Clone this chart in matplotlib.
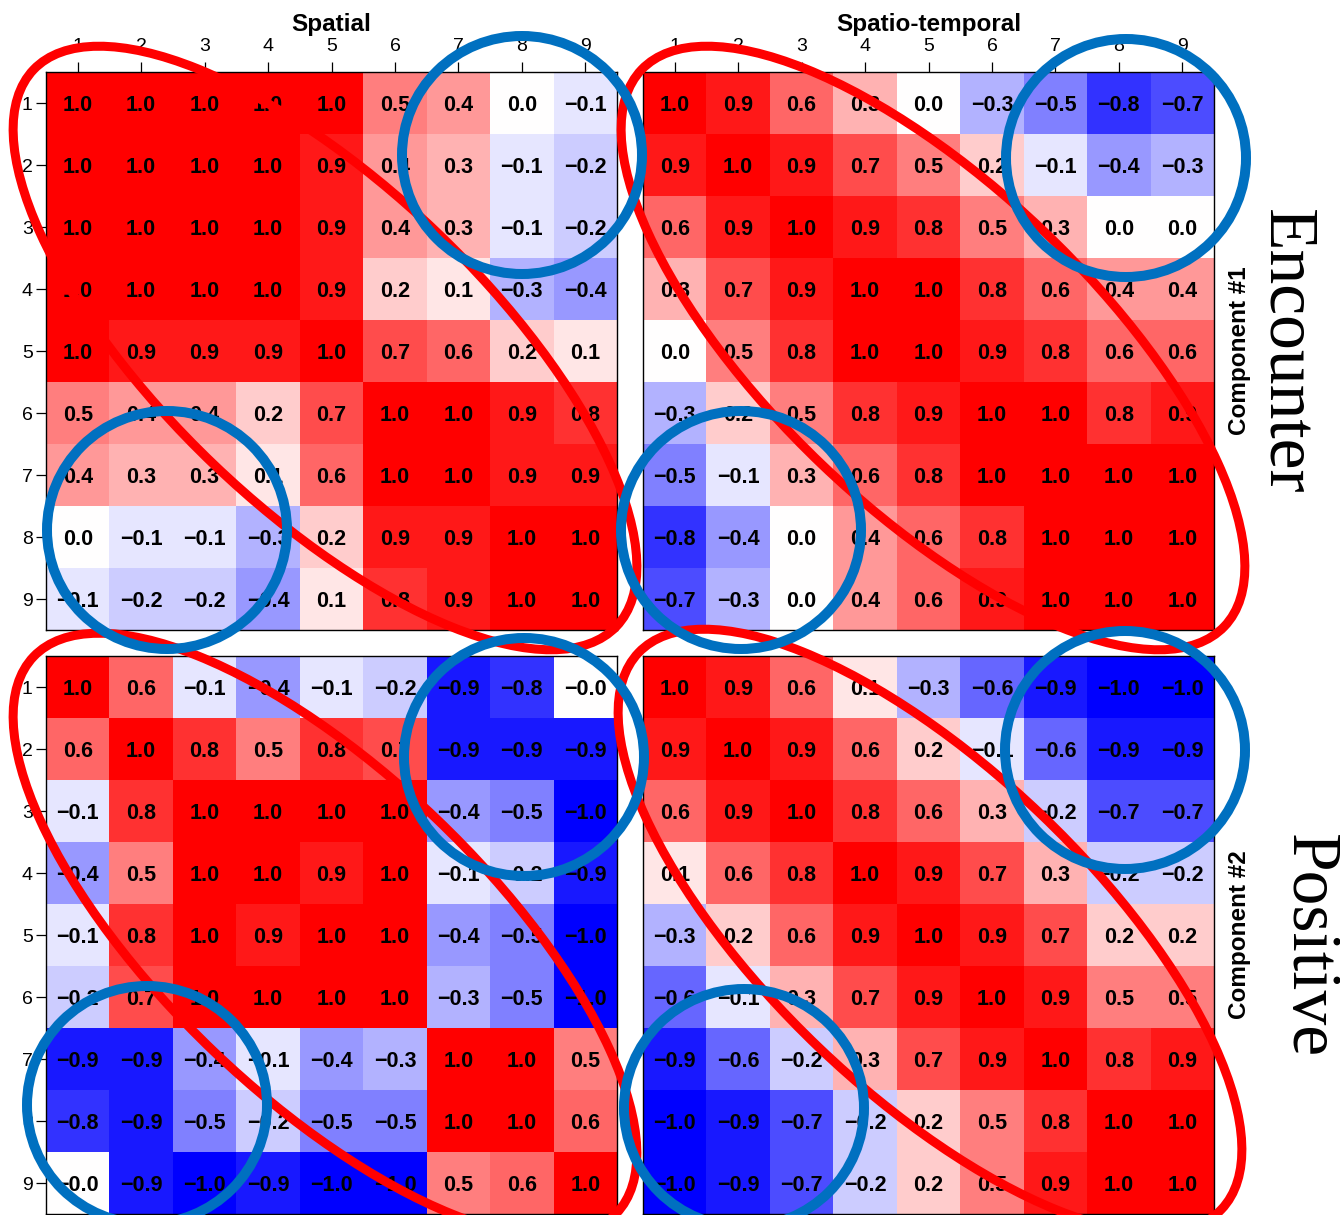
import matplotlib.pyplot as plt
from matplotlib.patches import Ellipse
import numpy as np

plt.rcParams['font.family'] = ['Liberation Sans', 'DejaVu Sans']

analyses = ["Spatial", "Spatio-temporal"]
components = ["Component #1", "Component #2"]
conditions = ["Encounter", "Positive"]
tick_labels = [str(i) for i in range(1, 10)]

spatial_c1 = [
    [1.0, 1.0, 1.0, 1.0, 1.0, 0.5, 0.4, 0.0, -0.1],
    [1.0, 1.0, 1.0, 1.0, 0.9, 0.4, 0.3, -0.1, -0.2],
    [1.0, 1.0, 1.0, 1.0, 0.9, 0.4, 0.3, -0.1, -0.2],
    [1.0, 1.0, 1.0, 1.0, 0.9, 0.2, 0.1, -0.3, -0.4],
    [1.0, 0.9, 0.9, 0.9, 1.0, 0.7, 0.6, 0.2, 0.1],
    [0.5, 0.4, 0.4, 0.2, 0.7, 1.0, 1.0, 0.9, 0.8],
    [0.4, 0.3, 0.3, 0.1, 0.6, 1.0, 1.0, 0.9, 0.9],
    [0.0, -0.1, -0.1, -0.3, 0.2, 0.9, 0.9, 1.0, 1.0],
    [-0.1, -0.2, -0.2, -0.4, 0.1, 0.8, 0.9, 1.0, 1.0],
]

spatiotemporal_c1 = [
    [1.0, 0.9, 0.6, 0.3, 0.0, -0.3, -0.5, -0.8, -0.7],
    [0.9, 1.0, 0.9, 0.7, 0.5, 0.2, -0.1, -0.4, -0.3],
    [0.6, 0.9, 1.0, 0.9, 0.8, 0.5, 0.3, 0.0, 0.0],
    [0.3, 0.7, 0.9, 1.0, 1.0, 0.8, 0.6, 0.4, 0.4],
    [0.0, 0.5, 0.8, 1.0, 1.0, 0.9, 0.8, 0.6, 0.6],
    [-0.3, 0.2, 0.5, 0.8, 0.9, 1.0, 1.0, 0.8, 0.9],
    [-0.5, -0.1, 0.3, 0.6, 0.8, 1.0, 1.0, 1.0, 1.0],
    [-0.8, -0.4, 0.0, 0.4, 0.6, 0.8, 1.0, 1.0, 1.0],
    [-0.7, -0.3, 0.0, 0.4, 0.6, 0.9, 1.0, 1.0, 1.0],
]

spatial_c2 = [
    [1.0, 0.6, -0.1, -0.4, -0.1, -0.2, -0.9, -0.8, -0.0],
    [0.6, 1.0, 0.8, 0.5, 0.8, 0.7, -0.9, -0.9, -0.9],
    [-0.1, 0.8, 1.0, 1.0, 1.0, 1.0, -0.4, -0.5, -1.0],
    [-0.4, 0.5, 1.0, 1.0, 0.9, 1.0, -0.1, -0.2, -0.9],
    [-0.1, 0.8, 1.0, 0.9, 1.0, 1.0, -0.4, -0.5, -1.0],
    [-0.2, 0.7, 1.0, 1.0, 1.0, 1.0, -0.3, -0.5, -1.0],
    [-0.9, -0.9, -0.4, -0.1, -0.4, -0.3, 1.0, 1.0, 0.5],
    [-0.8, -0.9, -0.5, -0.2, -0.5, -0.5, 1.0, 1.0, 0.6],
    [-0.0, -0.9, -1.0, -0.9, -1.0, -1.0, 0.5, 0.6, 1.0],
]

spatiotemporal_c2 = [
    [1.0, 0.9, 0.6, 0.1, -0.3, -0.6, -0.9, -1.0, -1.0],
    [0.9, 1.0, 0.9, 0.6, 0.2, -0.1, -0.6, -0.9, -0.9],
    [0.6, 0.9, 1.0, 0.8, 0.6, 0.3, -0.2, -0.7, -0.7],
    [0.1, 0.6, 0.8, 1.0, 0.9, 0.7, 0.3, -0.2, -0.2],
    [-0.3, 0.2, 0.6, 0.9, 1.0, 0.9, 0.7, 0.2, 0.2],
    [-0.6, -0.1, 0.3, 0.7, 0.9, 1.0, 0.9, 0.5, 0.5],
    [-0.9, -0.6, -0.2, 0.3, 0.7, 0.9, 1.0, 0.8, 0.9],
    [-1.0, -0.9, -0.7, -0.2, 0.2, 0.5, 0.8, 1.0, 1.0],
    [-1.0, -0.9, -0.7, -0.2, 0.2, 0.5, 0.9, 1.0, 1.0],
]

W, H = 1340, 1215


def fmt(v):
    return "{:.1f}".format(v).replace("-", "\u2212")


def draw_matrix(ax, values, top=False, left=False):
    values = np.array(values)
    ax.imshow(values, cmap='bwr', vmin=-1, vmax=1, aspect='auto', interpolation='nearest')
    for i in range(values.shape[0]):
        for j in range(values.shape[1]):
            ax.text(j, i, fmt(values[i, j]), ha='center', va='center_baseline',
                    fontsize=15.5, fontweight='bold', color='black')

    ax.set_xticks(range(9))
    ax.set_yticks(range(9))
    ax.xaxis.tick_top()
    ax.tick_params(axis='x', top=top, labeltop=top, bottom=False, labelbottom=False,
                   length=7.5, width=0.9, labelsize=14, pad=5)
    ax.tick_params(axis='y', left=left, labelleft=left, length=7.5, width=0.9,
                   labelsize=14, pad=2)
    if top:
        ax.set_xticklabels(tick_labels)
    if left:
        ax.set_yticklabels(tick_labels)
    for s in ax.spines.values():
        s.set_linewidth(1.0)


def px_axes(fig, x0, y0, x1, y1):
    # pixel box (top-left origin) -> figure fraction
    return fig.add_axes([x0 / W, 1 - y1 / H, (x1 - x0) / W, (y1 - y0) / H])


fig = plt.figure(figsize=(W / 100, H / 100), dpi=100)

col_x = [(46, 617), (643, 1214)]
row_y = [(72, 630), (656, 1214)]
mats = [[spatial_c1, spatiotemporal_c1], [spatial_c2, spatiotemporal_c2]]

for r in range(2):
    for c in range(2):
        ax = px_axes(fig, col_x[c][0], row_y[r][0], col_x[c][1], row_y[r][1])
        draw_matrix(ax, mats[r][c], top=(r == 0), left=(c == 0))

# column titles
for c in range(2):
    xc = (col_x[c][0] + col_x[c][1]) / 2
    fig.text(xc / W, 1 - 31 / H, analyses[c], ha='center', va='baseline',
             fontsize=17.5, fontweight='bold')

# row labels on the right
for r in range(2):
    yc = (row_y[r][0] + row_y[r][1]) / 2
    fig.text(1246 / W, 1 - yc / H, components[r], rotation=90, rotation_mode='anchor',
             ha='center', va='baseline', fontsize=17.5, fontweight='bold')
big_x = [1268, 1291]
big_y = [352, 946]
for r in range(2):
    fig.text(big_x[r] / W, 1 - big_y[r] / H, conditions[r], rotation=-90,
             rotation_mode='anchor', ha='center', va='baseline', fontsize=50,
             family=['Liberation Serif', 'DejaVu Serif'])

# highlight rings drawn over everything, in pixel units
over = fig.add_axes([0, 0, 1, 1], zorder=10)
over.set_xlim(0, W)
over.set_ylim(H, 0)
over.axis('off')
over.patch.set_visible(False)

red_centres = [(325, 348), (933, 348), (325, 935), (930, 931)]
for cx, cy in red_centres:
    over.add_patch(Ellipse((cx, cy), 806, 322, angle=43.7, fill=False,
                           edgecolor='#ff0000', linewidth=6.5))

blue_centres = [(522, 155), (167, 530), (1126, 158), (741, 530),
                (524, 757), (147, 1105), (1125, 750), (744, 1108)]
for cx, cy in blue_centres:
    over.add_patch(Ellipse((cx, cy), 240, 238, fill=False,
                           edgecolor='#0070c0', linewidth=7.2))

plt.savefig('out.png', dpi=100)
